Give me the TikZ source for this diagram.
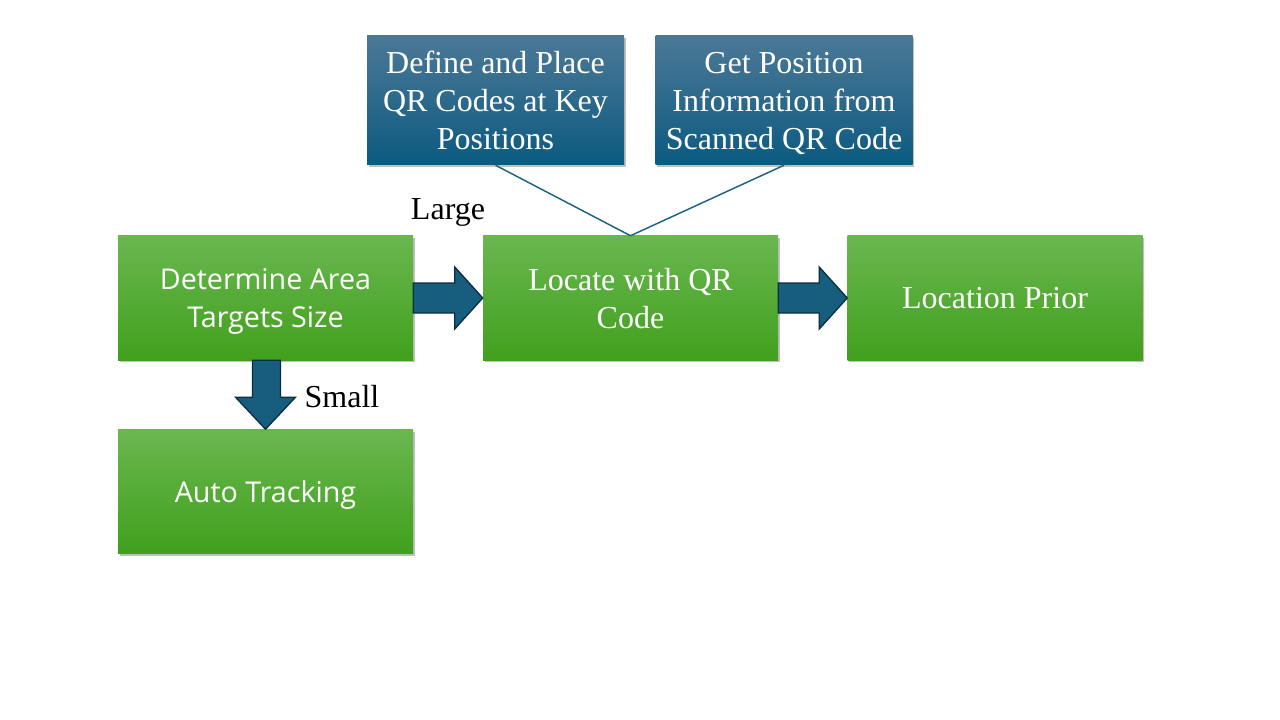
\documentclass[tikz,border=0pt]{standalone}
\usepackage{fontspec}
\setmainfont{Liberation Serif}
\newfontfamily\aptos{Open Sans}
\usetikzlibrary{calc,shadows}
\definecolor{grtop}{HTML}{6AB750}
\definecolor{grbot}{HTML}{41A01D}
\definecolor{bltop}{HTML}{4C7896}
\definecolor{blbot}{HTML}{0C5A80}
\definecolor{arrfill}{HTML}{175E7E}
\definecolor{arrline}{HTML}{0C2F40}
\definecolor{linkc}{HTML}{1E6285}
\tikzset{
  block/.style={rectangle,align=center,text=white,inner sep=0pt,text depth=0pt,
                font=\fontsize{24}{28.5}\selectfont,
                drop shadow={shadow xshift=1.2pt,shadow yshift=-1.5pt,opacity=0.25,fill=black}},
  stepg/.style={block,top color=grtop,bottom color=grbot,
                minimum width=221.25pt,minimum height=93pt},
  stepgs/.style={stepg,font=\aptos\fontsize{21.5}{28.5}\selectfont},
  stepb/.style={block,top color=bltop,bottom color=blbot,
                minimum width=192.75pt,minimum height=96.75pt},
  bigarrow/.style={fill=arrfill,draw=arrline,line width=1pt,line join=miter},
  link/.style={draw=linkc,line width=1.1pt},
  lbl/.style={font=\fontsize{24}{28.5}\selectfont,text=black},
}
\begin{document}
\begin{tikzpicture}[x=0.75pt,y=-0.75pt]
\useasboundingbox[fill=white] (0,0) rectangle (1280,720);
% green steps
\node[stepgs] (det) at (265.5,298) {Determine Area\\Targets Size};
\node[stepg] (loc) at (630.5,298) {Locate with QR\\Code};
\node[stepg] (prior) at (995,298) {Location Prior};
\node[stepgs] (auto) at (265.5,491.5) {Auto Tracking};
% blue inputs
\node[stepb] (def) at (495.5,100.5) {Define and Place\\QR Codes at Key\\Positions};
\node[stepb] (get) at (784,100.5) {Get Position\\Information from\\Scanned QR Code};
\draw[link] (def.south) -- (loc.north);
\draw[link] (get.south) -- (loc.north);
% block arrows
\draw[bigarrow] ($(det.east)+(0,-15)$) -- ($(loc.west)+(-28,-15)$) -- ($(loc.west)+(-28,-31)$)
  -- (loc.west) -- ($(loc.west)+(-28,31)$) -- ($(loc.west)+(-28,15)$) -- ($(det.east)+(0,15)$) -- cycle;
\draw[bigarrow] ($(loc.east)+(0,-15)$) -- ($(prior.west)+(-28,-15)$) -- ($(prior.west)+(-28,-31)$)
  -- (prior.west) -- ($(prior.west)+(-28,31)$) -- ($(prior.west)+(-28,15)$) -- ($(loc.east)+(0,15)$) -- cycle;
\draw[bigarrow] ($(det.south)+(-13,0)$) -- ($(auto.north)+(-13,-32)$) -- ($(auto.north)+(-30,-32)$)
  -- (auto.north) -- ($(auto.north)+(30,-32)$) -- ($(auto.north)+(15,-32)$) -- ($(det.south)+(15,0)$) -- cycle;
% branch labels
\node[lbl] (large) at (448,212) {Large};
\node[lbl] (small) at (342,397) {Small};
\end{tikzpicture}
\end{document}
